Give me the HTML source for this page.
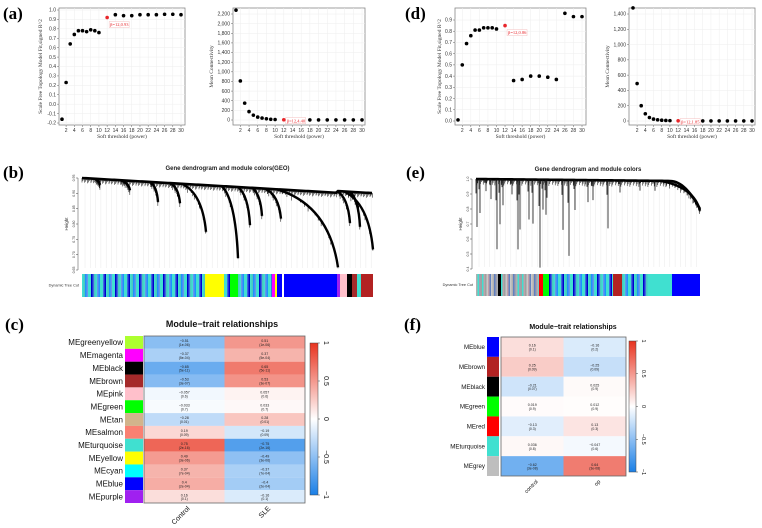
<!DOCTYPE html>
<html><head><meta charset="utf-8"><style>
html,body{margin:0;padding:0;background:#fff}
svg{display:block;font-family:"Liberation Sans",sans-serif}
.pl{font-family:"Liberation Serif",serif;font-weight:bold;font-size:17px}
.tk{font-size:5px;fill:#333}
.ax{font-family:"Liberation Serif",serif;font-size:5.5px;fill:#333}
</style></head><body>
<svg id="fig" width="762" height="528" viewBox="0 0 762 528" xmlns="http://www.w3.org/2000/svg">
<text class="pl" x="3" y="19">(a)</text>
<text class="pl" x="405" y="19">(d)</text>
<text class="pl" x="3" y="178">(b)</text>
<text class="pl" x="406" y="178">(e)</text>
<text class="pl" x="5" y="330">(c)</text>
<text class="pl" x="404" y="330">(f)</text>
<g id="g"></g>
</svg>
<script>
// ---- scale-free data ----
const powers=[1,2,3,4,5,6,7,8,9,10,12,14,16,18,20,22,24,26,28,30];
const geoFit=[-0.16,0.23,0.64,0.74,0.78,0.78,0.77,0.79,0.78,0.76,0.92,0.95,0.94,0.94,0.95,0.95,0.95,0.955,0.955,0.95];
const geoConn=[2280,810,350,175,100,60,40,25,15,10,5,3,2,2,2,2,2,2,2,2];
const opFit=[0.01,0.5,0.69,0.76,0.81,0.81,0.83,0.83,0.83,0.82,0.85,0.36,0.37,0.40,0.40,0.39,0.37,0.96,0.93,0.93];
const opConn=[1480,490,200,95,45,25,15,10,7,5,3,2,1,1,1,1,1,1,1,1];
const xTicks=[2,4,6,8,10,12,14,16,18,20,22,24,26,28,30];
const geoFitTicks=[-0.2,-0.1,0,0.1,0.2,0.3,0.4,0.5,0.6,0.7,0.8,0.9,1.0];
const geoConnTicks=[0,200,400,600,800,1000,1200,1400,1600,1800,2000,2200];
const opFitTicks=[0,0.1,0.2,0.3,0.4,0.5,0.6,0.7,0.8,0.9];
const opConnTicks=[0,200,400,600,800,1000,1200,1400];
// ---- module-trait data ----
const geoModules=["MEgreenyellow","MEmagenta","MEblack","MEbrown","MEpink","MEgreen","MEtan","MEsalmon","MEturquoise","MEyellow","MEcyan","MEblue","MEpurple"];
const geoModColors=["#adff2f","#ff00ff","#000000","#a52a2a","#ffc0cb","#00ff00","#d2b48c","#fa8072","#40e0d0","#ffff00","#00ffff","#0000ff","#a020f0"];
const geoControl=[-0.51,-0.37,-0.65,-0.53,-0.057,-0.033,-0.28,0.19,0.75,0.49,0.37,0.4,0.16];
const geoSLE=[0.51,0.37,0.65,0.53,0.057,0.033,0.28,-0.19,-0.75,-0.49,-0.37,-0.4,-0.16];
const geoP=["1e-06","5e-04","5e-11","3e-07","0.6","0.7","0.01","0.09","2e-16","3e-06","7e-04","2e-04","0.1"];
const geoTraits=["Control","SLE"];
const opModules=["MEblue","MEbrown","MEblack","MEgreen","MEred","MEturquoise","MEgrey"];
const opModColors=["#0000ff","#b22222","#000000","#00ff00","#ff0000","#40e0d0","#bebebe"];
const opControl=[0.16,0.25,-0.21,0.019,-0.13,0.036,-0.62];
const opOp=[-0.16,-0.25,0.025,0.012,0.13,-0.047,0.64];
const opPc=["0.1","0.09","0.07","0.9","0.3","0.8","3e-08"];
const opPo=["0.2","0.09","0.9","0.9","0.3","0.6","3e-08"];
const opTraits=["control","op"];
const cbTicks=[1,0.5,0,-0.5,-1];

const NS="http://www.w3.org/2000/svg";
const G=document.getElementById('g');
function el(t,a,p){const e=document.createElementNS(NS,t);for(const k in a)e.setAttribute(k,a[k]);(p||G).appendChild(e);return e;}
function txt(s,a,p){const e=el('text',a,p);e.textContent=s;return e;}

function scatter(o){
  const g=el('g',{});
  
  
  const sx=v=>o.x1+(v-1)*(o.x30-o.x1)/29;
  const sy=v=>o.yb+(v-o.y0)*(o.yt-o.yb)/(o.y1-o.y0);
  el('rect',{x:o.L,y:o.T,width:o.R-o.L,height:o.B-o.T,fill:'#fff',stroke:'#888','stroke-width':0.8},g);
  xTicks.forEach(t=>{const x=sx(t);el('line',{x1:x,x2:x,y1:o.T,y2:o.B,stroke:'#eee','stroke-width':0.5},g);
    el('line',{x1:x,x2:x,y1:o.B,y2:o.B+2,stroke:'#666','stroke-width':0.5},g);
    const tt=txt(String(t),{x:x,y:o.B+7,'text-anchor':'middle',class:'tk'},g);
    });
  o.ticks.forEach(t=>{const y=sy(t);el('line',{x1:o.L,x2:o.R,y1:y,y2:y,stroke:'#eee','stroke-width':0.5},g);
    el('line',{x1:o.L-2,x2:o.L,y1:y,y2:y,stroke:'#666','stroke-width':0.5},g);
    const lab=o.fmt(t);
    const tt=txt(lab,{x:o.L-3,y:y+1.7,'text-anchor':'end',class:'tk'},g);
    });
  powers.forEach((p,i)=>{const c=el('circle',{cx:sx(p),cy:sy(o.data[i]),r:1.8,fill:p===12?'#e8262b':'#000'},g);
    
    });
  const i12=powers.indexOf(12);
  const lx=sx(12)+2,ly=sy(o.data[i12])+(o.lblDy||4);
  el('rect',{x:lx,y:ly,width:20,height:6,fill:'#fff',stroke:'#f3b0b0','stroke-width':0.4},g);
  const lb=txt(o.lbl,{x:lx+1,y:ly+4.5,fill:'#e8262b','font-size':'4.5px','font-family':'Liberation Serif,serif'},g);
  
  const xl=txt('Soft threshold (power)',{x:(o.L+o.R)/2,y:o.B+13,'text-anchor':'middle',class:'ax'},g);
  
  const yl=txt(o.ytitle,{x:0,y:0,'text-anchor':'middle',class:'ax',transform:`translate(${o.L-(o.ygap||19)},${(o.T+o.B)/2}) rotate(-90)`},g);
  
}
const f1=t=>t.toFixed(1);
const fk=t=>t>=1000?(Math.floor(t/1000)+','+String(t%1000).padStart(3,'0')):String(t);
const fitT='Scale Free Topology Model Fit,signed R^2';
scatter({name:'geo-scale-fit-plot',L:59,R:185,T:8,B:125,x1:62,x30:181,y0:-0.2,y1:1.0,yb:123,yt:10,ticks:geoFitTicks,fmt:f1,data:geoFit,lbl:'β=12,0.93',ytitle:fitT,ygap:17});
scatter({name:'geo-mean-connectivity-plot',L:233,R:365,T:8,B:125,x1:236,x30:362,y0:0,y1:2200,yb:120,yt:14,ticks:geoConnTicks,fmt:fk,data:geoConn,lbl:'β=12,4.40',ytitle:'Mean Connectivity',lblDy:-2,ygap:20});
scatter({name:'op-scale-fit-plot',L:455,R:586,T:8,B:125,x1:458,x30:582,y0:0,y1:0.9,yb:121,yt:20,ticks:opFitTicks,fmt:f1,data:opFit,lbl:'β=12,0.86',ytitle:fitT,ygap:14});
scatter({name:'op-mean-connectivity-plot',L:629,R:755,T:8,B:125,x1:633,x30:752,y0:0,y1:1400,yb:121,yt:14,ticks:opConnTicks,fmt:fk,data:opConn,lbl:'β=12,1.85',ytitle:'Mean Connectivity',lblDy:-2,ygap:20});

// ---- dendrograms ----
// branches: [x start, x end (px), drop depth px from top line]
const geoBranches=[[182,206,48],[222,238,72],[238,250,38],[252,262,28],[265,281,30],[277,338,78],[337,350,32],[344,373,58],[350,360,35],[150,158,20],[120,130,10],[170,180,20],[95,100,6]];
// vertical drops for op dendrogram: [x, depth px]
const opDrops=[[477,48],[480,34],[486,12],[491,20],[497,70],[500,45],[503,26],[512,15],[518,70],[520,50],[529,40],[533,44],[540,88],[543,30],[546,35],[547,18],[563,50],[569,76],[575,30],[588,22],[593,20],[608,48],[620,12],[640,10],[655,10]];
const geoColorSegs=[[82,205,'mix1'],[205,224,'#ffff00'],[224,230,'mix1'],[230,238,'#00ff00'],[238,272,'mix1'],[272,275,'#ff00ff'],[275,277,'#ffff00'],[277,282,'#0000ff'],[282,284,'#fff'],[284,337,'#0000ff'],[337,340,'#a020f0'],[340,347,'#ffc0cb'],[347,352,'#000'],[352,357,'#a52a2a'],[357,361,'#40e0d0'],[361,373,'#b22222']];
const opColorSegs=[[476,498,'mix2'],[498,501,'#000'],[501,539,'mix2'],[539,543,'#ff0000'],[543,549,'#00ff00'],[549,613,'mix1'],[613,622,'#b22222'],[622,648,'mix1'],[648,672,'#40e0d0'],[672,700,'#0000ff']];
function dendro(o){
  const g=el('g',{});
  
  const t=txt(o.title,{x:(o.L+o.R)/2,y:o.ty,'text-anchor':'middle','font-size':'6px','font-weight':'bold',fill:'#222'},g);
  
  el('line',{x1:o.L-4,x2:o.L-4,y1:o.T,y2:o.B,stroke:'#444','stroke-width':0.5},g);
  o.ticks.forEach((v,i)=>{const y=o.B-(o.B-o.T)*i/(o.ticks.length-1);
    el('line',{x1:o.L-6,x2:o.L-4,y1:y,y2:y,stroke:'#444','stroke-width':0.5},g);
    txt(v,{x:0,y:0,'text-anchor':'middle','font-size':'3.5px',fill:'#333',transform:`translate(${o.L-7},${y}) rotate(-90)`},g);});
  txt('Height',{x:0,y:0,'text-anchor':'middle','font-size':'4.5px',fill:'#333',transform:`translate(${o.L-14},${(o.T+o.B)/2}) rotate(-90)`},g);
  for(let x=o.L+3;x<o.R;x+=5.3){el('line',{x1:x,x2:x,y1:o.top(x),y2:o.B-2,stroke:'#e2e2e2','stroke-width':0.4},g);}
  // hanging leaves texture
  let h='';for(let x=o.L;x<=o.R;x+=0.9){const L=1+((Math.floor(x*7))%9)*0.5*o.hang;h+=`M${x} ${o.top(x)} v${L} `;}
  el('path',{d:h,stroke:'#000','stroke-width':0.5,fill:'none'},g);
  let d='M'+o.L+' '+o.top(o.L);for(let x=o.L;x<=o.R;x+=2)d+=' L'+x+' '+o.top(x);
  el('path',{d:d,fill:'none',stroke:'#000','stroke-width':2.6},g);
  (o.br||[]).forEach(b=>{const[x0,x1,dp]=b;const y0=o.top(x0);
    const p=el('path',{d:`M${x0} ${y0} Q${x1-(x1-x0)*0.15} ${y0+dp*0.2} ${x1} ${y0+dp}`,fill:'none',stroke:'#000','stroke-width':2.4},g);
    
    let s='';for(let k=0;k<=20;k++){const u=k/20;const bx=(1-u)*(1-u)*x0+2*u*(1-u)*(x1-(x1-x0)*0.15)+u*u*x1;const by=(1-u)*(1-u)*y0+2*u*(1-u)*(y0+dp*0.2)+u*u*(y0+dp);s+=`M${bx} ${by} v${1+(k%4)*1.5} `;}
    el('path',{d:s,stroke:'#000','stroke-width':0.5,fill:'none'},g);});
  (o.drops||[]).forEach(b=>{const[x,dp]=b;const y0=o.top(x);
    const p=el('path',{d:`M${x} ${y0} v${dp} M${x-1} ${y0} v${dp*0.3}`,fill:'none',stroke:'#111','stroke-width':0.8},g);
    });
  const cb=el('g',{},g);
  o.segs.forEach(s=>{const[a,b,c]=s;
    if(c.startsWith('mix')){const pal=c==='mix1'?['#40e0d0','#4169e1','#40e0d0','#1e90ff','#40e0d0','#0000cd','#48c9c0','#6495ed']:['#b0b0b0','#c0a0a8','#9fa0b0','#c8c8c8','#40e0d0','#6080c0','#a0a0a0'];
      let k=0;for(let x=a;x<b;x+=1.5){el('rect',{x:x,y:o.cT,width:Math.min(1.6,b-x),height:o.cB-o.cT,fill:pal[(k*3+Math.floor(x))%pal.length]},cb);k++;}}
    else el('rect',{x:a,y:o.cT,width:b-a,height:o.cB-o.cT,fill:c},cb);});
  const dl=txt('Dynamic Tree Cut',{x:o.L-3,y:(o.cT+o.cB)/2+1,'text-anchor':'end','font-size':'3.8px',fill:'#333'},g);
  
}
dendro({name:'geo-dendrogram',title:'Gene dendrogram and module colors(GEO)',L:82,R:373,T:178,B:270,ty:170,hang:1,
  top:x=>x<337?178+(x-82)*0.058:191+(x-337)*0.06,br:geoBranches,segs:geoColorSegs,cT:274,cB:297,
  ticks:['0.65','0.70','0.75','0.80','0.85','0.90','0.95']});
dendro({name:'op-dendrogram',title:'Gene dendrogram and module colors',L:476,R:700,T:179,B:269,ty:171,hang:1.3,
  top:x=>x<670?179+(x-476)*0.01:181+Math.pow((x-670)/30,2)*28,drops:opDrops,br:[[660,700,30]],segs:opColorSegs,cT:274,cB:296,
  ticks:['0.4','0.5','0.6','0.7','0.8','0.9','1.0']});

// ---- heatmaps ----
function col(v){const c0=[26,127,230],c1=[232,51,31],w=[255,255,255];const t=Math.abs(v),c=v<0?c0:c1;
  return 'rgb('+w.map((a,i)=>Math.round(a+(c[i]-a)*t)).join(',')+')';}
function heat(o){
  const g=el('g',{});
  const tt=txt('Module\u2212trait relationships',{x:o.tx,y:o.ty,'text-anchor':'middle','font-size':o.tf+'px','font-weight':'bold',fill:'#111'},g);
  
  const n=o.mods.length,rh=(o.B-o.T)/n,cw=(o.R-o.L)/2;
  o.mods.forEach((m,i)=>{const y=o.T+i*rh;
    const sw=el('rect',{x:o.sL,y:y,width:o.sR-o.sL,height:rh,fill:o.cols[i]},g);
    
    const lb=txt(m,{x:o.sL-2,y:y+rh/2+o.lf*0.35,'text-anchor':'end','font-size':o.lf+'px',fill:'#111'},g);
    
    [o.v1,o.v2].forEach((vals,j)=>{const x=o.L+j*cw;
      const r=el('rect',{x:x,y:y,width:cw,height:rh,fill:col(vals[i])},g);
      
      txt(String(vals[i]).replace('-','\u2212'),{x:x+cw/2,y:y+rh/2-0.3,'text-anchor':'middle','font-size':'3.6px',fill:'#222'},g);
      txt('('+(j?o.p2:o.p1)[i]+')',{x:x+cw/2,y:y+rh/2+3.6,'text-anchor':'middle','font-size':'3.4px',fill:'#222'},g);});});
  el('rect',{x:o.L,y:o.T,width:o.R-o.L,height:o.B-o.T,fill:'none',stroke:'#666','stroke-width':0.8},g);
  o.traits.forEach((t,j)=>{const x=o.L+cw*(j+0.5);
    const l=txt(t,{x:0,y:0,'text-anchor':'end','font-size':o.xf+'px',fill:'#111',transform:`translate(${x+6},${o.B+6}) rotate(-45)`},g);
    });
  const id='gr'+o.name;const df=el('defs',{},g);const lg=el('linearGradient',{id:id,x1:0,y1:0,x2:0,y2:1},df);
  [1,0.5,0,-0.5,-1].forEach((v,k)=>el('stop',{offset:k*25+'%','stop-color':col(v)},lg));
  const cbr=el('rect',{x:o.cL,y:o.cT,width:o.cW,height:o.cB-o.cT,fill:`url(#${id})`,stroke:'#444','stroke-width':0.5},g);
  
  cbTicks.forEach(v=>{const y=o.cT+(1-v)/2*(o.cB-o.cT);
    el('line',{x1:o.cL+o.cW,x2:o.cL+o.cW+2,y1:y,y2:y,stroke:'#444','stroke-width':0.5},g);
    txt(String(v).replace('-','\u2212'),{x:0,y:0,'text-anchor':'middle','font-size':o.cf+'px',fill:'#111',transform:`translate(${o.cL+o.cW+6},${y}) rotate(90)`},g);});
}
heat({name:'geo-module-trait-heatmap',mods:geoModules,cols:geoModColors,v1:geoControl,v2:geoSLE,p1:geoP,p2:geoP,traits:geoTraits,
  tx:222,ty:327,tf:9,lf:8,xf:7,L:144,R:305,T:336,B:503,sL:125,sR:143,cL:310,cW:8,cT:343,cB:495,cf:7});
heat({name:'op-module-trait-heatmap',mods:opModules,cols:opModColors,v1:opControl,v2:opOp,p1:opPc,p2:opPo,traits:opTraits,
  tx:573,ty:329,tf:7,lf:6.2,xf:5.5,L:501,R:626,T:337,B:476,sL:487,sR:499,cL:629,cW:7,cT:341,cB:472,cf:5.5});
</script>
</body></html>
